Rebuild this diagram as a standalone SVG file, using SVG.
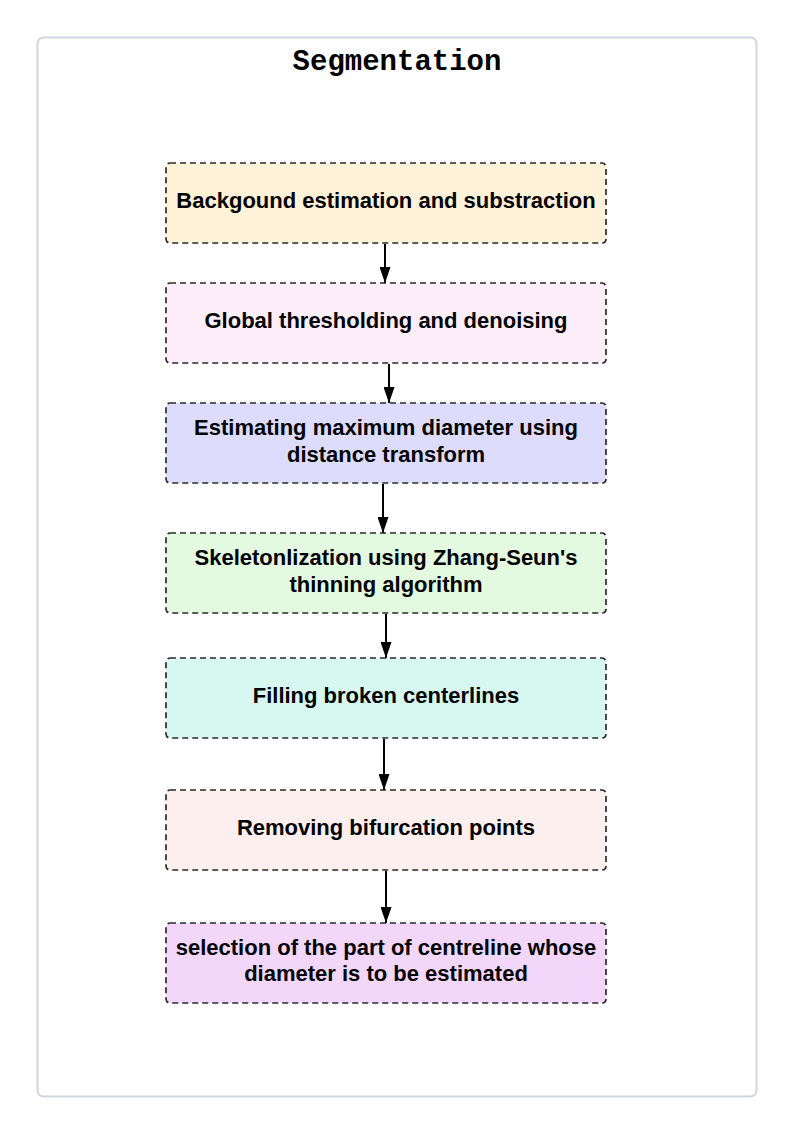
<svg xmlns="http://www.w3.org/2000/svg" width="797" height="1137" viewBox="0 0 797 1137">
<style>
.node rect{stroke:#2a2a2a;stroke-width:1.7;stroke-dasharray:6,4}
.lbl{font-family:"Liberation Sans",Arial,sans-serif;font-weight:bold;font-size:22px;fill:#000;text-anchor:middle}
.title{font-family:"Liberation Mono","Courier New",monospace;font-weight:bold;font-size:29px;fill:#000;text-anchor:middle}
.edge{stroke:#000;stroke-width:2;fill:none;marker-end:url(#ah)}
</style>
<defs>
<marker id="ah" viewBox="0 0 16 11" refX="16" refY="5.5" markerWidth="16" markerHeight="11" markerUnits="userSpaceOnUse" orient="auto">
<path d="M0,0 L16,5.5 L0,11 Z" fill="#000"/>
</marker>
</defs>
<rect x="0" y="0" width="797" height="1137" fill="#fff"/>
<g id="frame">
<rect x="37.5" y="37.5" width="719" height="1059" rx="6" fill="#fff" stroke="#d1d6df" stroke-width="2"/>
<text class="title" x="397" y="70">Segmentation</text>
</g>
<g id="connectors">
<path class="edge" d="M385,244 V283"/>
<path class="edge" d="M389,364 V403"/>
<path class="edge" d="M383,484 V533"/>
<path class="edge" d="M386,614 V658"/>
<path class="edge" d="M384,739 V790"/>
<path class="edge" d="M386,871 V923"/>
</g>
<g id="n1" class="node">
<rect x="166" y="163" width="440" height="80" rx="4" fill="#fff2d8"/>
<text class="lbl" x="386" y="208">Backgound estimation and substraction</text>
</g>
<g id="n2" class="node">
<rect x="166" y="283" width="440" height="80" rx="4" fill="#fdeefa"/>
<text class="lbl" x="386" y="328">Global thresholding and denoising</text>
</g>
<g id="n3" class="node">
<rect x="166" y="403" width="440" height="80" rx="4" fill="#dddcfc"/>
<text class="lbl" x="386" y="435">Estimating maximum diameter using</text>
<text class="lbl" x="386" y="462">distance transform</text>
</g>
<g id="n4" class="node">
<rect x="166" y="533" width="440" height="80" rx="4" fill="#e3f9e0"/>
<text class="lbl" x="386" y="565">Skeletonlization using Zhang-Seun's</text>
<text class="lbl" x="386" y="592">thinning algorithm</text>
</g>
<g id="n5" class="node">
<rect x="166" y="658" width="440" height="80" rx="4" fill="#d7f8f1"/>
<text class="lbl" x="386" y="703">Filling broken centerlines</text>
</g>
<g id="n6" class="node">
<rect x="166" y="790" width="440" height="80" rx="4" fill="#fdefee"/>
<text class="lbl" x="386" y="835">Removing bifurcation points</text>
</g>
<g id="n7" class="node">
<rect x="166" y="923" width="440" height="80" rx="4" fill="#f2d7fb"/>
<text class="lbl" x="386" y="955">selection of the part of centreline whose</text>
<text class="lbl" x="386" y="981">diameter is to be estimated</text>
</g>
</svg>
